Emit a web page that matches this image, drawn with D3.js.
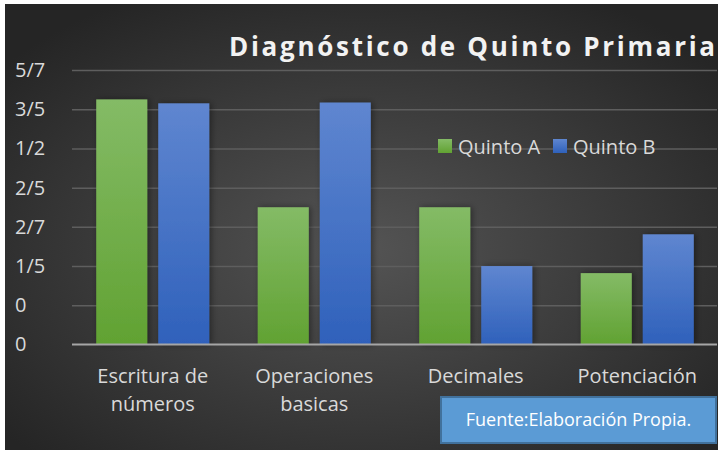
<!DOCTYPE html>
<html>
<head>
<meta charset="utf-8">
<script src="https://cdn.jsdelivr.net/npm/d3@7"></script>
<style>
  html, body { margin: 0; padding: 0; background: #fff; }
  svg { display: block; }
  text { font-family: "Open Sans", "Noto Sans", sans-serif; }
</style>
</head>
<body>
<div id="wrapper"></div>
<script>
const categories = [["Escritura de", "números"], ["Operaciones", "basicas"], ["Decimales"], ["Potenciación"]];
const series = ["Quinto A", "Quinto B"];
const quintoA = [0.625, 0.35, 0.35, 0.182];
const quintoB = [0.615, 0.617, 0.2, 0.281];
const tickValues = [0, 0.1, 0.2, 0.3, 0.4, 0.5, 0.6, 0.7];
const tickLabels = ["0", "0", "1/5", "2/7", "2/5", "1/2", "3/5", "5/7"];

function drawChart() {
  const dimensions = { width: 724, height: 455 };
  const catNames = categories.map((c) => c.join(" "));
  const rows = catNames.map((name, i) => ({ name, values: [quintoA[i], quintoB[i]] }));

  const svg = d3
    .select("#wrapper")
    .append("svg")
    .attr("width", dimensions.width)
    .attr("height", dimensions.height);

  const defs = svg.append("defs");
  const bg = defs
    .append("radialGradient")
    .attr("id", "bg")
    .attr("cx", "50%")
    .attr("cy", "55%")
    .attr("r", "65%");
  bg.append("stop").attr("offset", "0%").attr("stop-color", "#545454");
  bg.append("stop").attr("offset", "100%").attr("stop-color", "#252525");

  const barColors = [
    ["#84bb66", "#61a232"],
    ["#5f86d0", "#2f61bb"],
  ];
  barColors.forEach(([top, bottom], i) => {
    const g = defs
      .append("linearGradient")
      .attr("id", `bar-${i}`)
      .attr("x1", 0).attr("y1", 0).attr("x2", 0).attr("y2", 1);
    g.append("stop").attr("offset", "0%").attr("stop-color", top);
    g.append("stop").attr("offset", "100%").attr("stop-color", bottom);
  });
  const shadow = defs.append("filter").attr("id", "shadow").attr("x", "-20%").attr("width", "140%");
  shadow
    .append("feDropShadow")
    .attr("dx", 2).attr("dy", 0).attr("stdDeviation", 3)
    .attr("flood-color", "#000").attr("flood-opacity", 0.4);

  svg
    .append("rect")
    .attr("x", 5).attr("y", 4)
    .attr("width", 713).attr("height", 446)
    .attr("fill", "url(#bg)");

  const x0 = d3
    .scaleBand()
    .domain(catNames)
    .range([72, 718])
    .paddingInner(0.3)
    .paddingOuter(0.15);
  const x1 = d3
    .scaleBand()
    .domain(series)
    .range([0, x0.bandwidth()])
    .paddingInner(0.177);
  const y = d3.scaleLinear().domain([0, 0.7]).range([344.5, 70]);

  // gridlines
  const grid = svg
    .append("g")
    .attr("transform", "translate(72,0)")
    .call(d3.axisLeft(y).tickValues(tickValues.slice(1)).tickSize(-645).tickFormat(""));
  grid.select(".domain").remove();
  grid.selectAll("line").attr("stroke", "#5e5e5e").attr("stroke-width", 1.5);

  // y labels
  const yAxis = svg
    .append("g")
    .attr("transform", "translate(15,0)")
    .call(d3.axisLeft(y).tickValues(tickValues).tickSize(0).tickFormat((d, i) => tickLabels[i]));
  yAxis.select(".domain").remove();
  yAxis
    .selectAll("text")
    .attr("x", 0)
    .attr("text-anchor", "start")
    .attr("fill", "#d9d9d9")
    .style("font-size", "20px");

  // bars
  svg
    .append("g")
    .selectAll("g")
    .data(rows)
    .join("g")
    .attr("transform", (d) => `translate(${x0(d.name)},0)`)
    .selectAll("rect")
    .data((d) => d.values.map((v, i) => ({ key: series[i], value: v, i })))
    .join("rect")
    .attr("x", (d) => x1(d.key))
    .attr("width", x1.bandwidth())
    .attr("y", (d) => y(d.value))
    .attr("height", (d) => y(0) - y(d.value))
    .attr("fill", (d) => `url(#bar-${d.i})`)
    .attr("filter", "url(#shadow)");

  // baseline
  svg
    .append("line")
    .attr("x1", 72).attr("x2", 717)
    .attr("y1", y(0)).attr("y2", y(0))
    .attr("stroke", "#a6a6a6")
    .attr("stroke-width", 2);

  // x labels
  const xLabels = svg
    .append("g")
    .selectAll("text")
    .data(categories)
    .join("text")
    .attr("text-anchor", "middle")
    .attr("fill", "#d9d9d9")
    .style("font-size", "20px")
    .attr("transform", (d, i) => `translate(${x0(catNames[i]) + x0.bandwidth() / 2},383)`);
  xLabels
    .selectAll("tspan")
    .data((d) => d)
    .join("tspan")
    .attr("x", 0)
    .attr("y", (d, i) => i * 28)
    .text((d) => d);

  // title
  svg
    .append("text")
    .attr("x", 229)
    .attr("y", 56)
    .attr("fill", "#f2f2f2")
    .attr("textLength", 486)
    .attr("lengthAdjust", "spacing")
    .style("font-size", "26px")
    .style("font-weight", "bold")
    .text("Diagnóstico de Quinto Primaria");

  // legend
  const legend = svg
    .append("g")
    .selectAll("g")
    .data(series)
    .join("g")
    .attr("transform", (d, i) => `translate(${438 + i * 115},139)`);
  legend
    .append("rect")
    .attr("width", 14)
    .attr("height", 14)
    .attr("fill", (d, i) => `url(#bar-${i})`);
  legend
    .append("text")
    .attr("x", 20)
    .attr("y", 15)
    .attr("fill", "#d9d9d9")
    .style("font-size", "20px")
    .text((d) => d);

  // source box
  const source = svg.append("g").attr("transform", "translate(441,397)");
  source
    .append("rect")
    .attr("width", 275)
    .attr("height", 46)
    .attr("fill", "#5b9bd5")
    .attr("stroke", "#41719c")
    .attr("stroke-width", 2);
  source
    .append("text")
    .attr("x", 137.5)
    .attr("y", 29)
    .attr("text-anchor", "middle")
    .attr("fill", "#ffffff")
    .style("font-size", "18px")
    .text("Fuente:Elaboración Propia.");
}

drawChart();
</script>
</body>
</html>
